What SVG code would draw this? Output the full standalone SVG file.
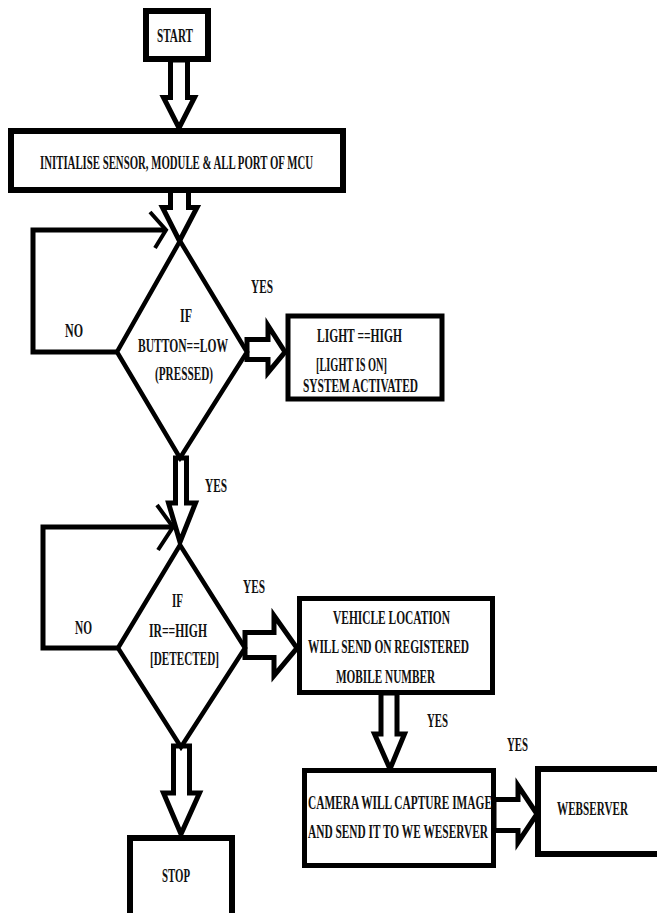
<svg xmlns="http://www.w3.org/2000/svg" width="657" height="913" viewBox="0 0 657 913">
<style>
.box{fill:#fff;stroke:#000;stroke-width:6}
.dia{fill:#fff;stroke:#000;stroke-width:4.5;stroke-linejoin:miter}
.arr{fill:#fff;stroke:#000;stroke-width:5;stroke-linejoin:miter}
.ln{fill:none;stroke:#000;stroke-width:5}
.chev{fill:none;stroke:#000;stroke-width:4}
text{font-family:"Liberation Serif","Times New Roman",serif;font-weight:bold;font-size:18px;fill:#111;text-anchor:middle}
</style>
<rect width="657" height="913" fill="#fff"/>
<g id="connectors">
  <polygon class="arr" points="170.5,60 170.5,97.5 163.5,97.5 179,128 194.5,97.5 187.5,97.5 187.5,60"/>
  <polygon class="arr" points="170.5,190 170.5,207.5 162.5,207.5 179.5,241 197,207.5 188.5,207.5 188.5,190"/>
  <polygon class="arr" points="175.5,458 175.5,503 168.5,503 180,542 195.5,503 186.5,503 186.5,458"/>
  <polygon class="arr" points="173.5,746 173.5,793 163.5,793 181,834 199.5,793 189.5,793 189.5,746"/>
  <polygon class="arr" points="247,339.5 268,339.5 268,325.5 285,352 268,372.5 268,359.5 247,359.5"/>
  <polygon class="arr" points="245,632.5 274,632.5 274,615.5 297,648 274,675.5 274,657.5 245,657.5"/>
  <polygon class="arr" points="381,693 381,734 374.5,734 390,769 404.5,734 397,734 397,693"/>
  <polygon class="arr" points="494,799.5 518,799.5 518,785.5 537,814 518,842.5 518,830.5 494,830.5"/>
  <polyline class="ln" points="117,352 33,352 33,230 165,230"/>
  <polyline class="chev" points="150,212 166,230 155,248"/>
  <polyline class="ln" points="118,648 43,648 43,527 172,527"/>
  <polyline class="chev" points="157,505 173,527 158,550"/>
</g>
<g id="start"><rect class="box" x="146" y="11" width="62" height="48"/><text x="175" y="42" textLength="36" lengthAdjust="spacingAndGlyphs">START</text></g>
<g id="init"><rect class="box" x="11" y="131" width="332" height="59"/><text x="176.5" y="169" textLength="273" lengthAdjust="spacingAndGlyphs">INITIALISE SENSOR, MODULE &amp; ALL PORT OF MCU</text></g>
<g id="decision1"><polygon class="dia" points="180,241 247,352 180,458 117,352"/>
<text x="186" y="322" textLength="12" lengthAdjust="spacingAndGlyphs">IF</text>
<text x="183" y="352" textLength="90" lengthAdjust="spacingAndGlyphs">BUTTON==LOW</text>
<text x="184" y="380" textLength="58" lengthAdjust="spacingAndGlyphs">(PRESSED)</text></g>
<g id="light"><rect class="box" x="288" y="316" width="154" height="83" style="stroke-width:5"/>
<text x="359.5" y="342" textLength="85" lengthAdjust="spacingAndGlyphs">LIGHT ==HIGH</text>
<text x="351.5" y="371" textLength="71" lengthAdjust="spacingAndGlyphs">[LIGHT IS ON]</text>
<text x="360.5" y="392" textLength="115" lengthAdjust="spacingAndGlyphs">SYSTEM ACTIVATED</text></g>
<g id="decision2"><polygon class="dia" points="180,545 245,648 181,747 118,648"/>
<text x="177.5" y="607" textLength="11" lengthAdjust="spacingAndGlyphs">IF</text>
<text x="178" y="637" textLength="58" lengthAdjust="spacingAndGlyphs">IR==HIGH</text>
<text x="184.5" y="665" textLength="69" lengthAdjust="spacingAndGlyphs">[DETECTED]</text></g>
<g id="vehicle"><rect class="box" x="299.5" y="598.5" width="193" height="94" style="stroke-width:5"/>
<text x="391.5" y="624" textLength="117" lengthAdjust="spacingAndGlyphs">VEHICLE LOCATION</text>
<text x="388.5" y="653" textLength="161" lengthAdjust="spacingAndGlyphs">WILL SEND ON REGISTERED</text>
<text x="385.5" y="683" textLength="99" lengthAdjust="spacingAndGlyphs">MOBILE NUMBER</text></g>
<g id="camera"><rect class="box" x="304.5" y="770.5" width="189" height="95" style="stroke-width:5"/>
<text x="400" y="809" textLength="184" lengthAdjust="spacingAndGlyphs">CAMERA WILL CAPTURE IMAGE</text>
<text x="398" y="838" textLength="180" lengthAdjust="spacingAndGlyphs">AND SEND IT TO WE WESERVER</text></g>
<g id="webserver"><rect x="538" y="769" width="119" height="85" fill="#fff"/><path class="box" d="M657,769 H538 V854 H657" fill="#fff"/>
<text x="592.5" y="815" textLength="71" lengthAdjust="spacingAndGlyphs">WEBSERVER</text></g>
<g id="stop"><rect x="130" y="838" width="102" height="75" fill="#fff"/><path class="box" d="M130,913 V838 H232 V913" fill="#fff"/>
<text x="176" y="882" textLength="28" lengthAdjust="spacingAndGlyphs">STOP</text></g>
<g id="labels">
<text x="74" y="337" textLength="18" lengthAdjust="spacingAndGlyphs">NO</text>
<text x="262" y="293" textLength="22" lengthAdjust="spacingAndGlyphs">YES</text>
<text x="216" y="492" textLength="22" lengthAdjust="spacingAndGlyphs">YES</text>
<text x="83.5" y="634" textLength="17" lengthAdjust="spacingAndGlyphs">NO</text>
<text x="254" y="593" textLength="22" lengthAdjust="spacingAndGlyphs">YES</text>
<text x="437.5" y="727" textLength="21" lengthAdjust="spacingAndGlyphs">YES</text>
<text x="517.5" y="751" textLength="21" lengthAdjust="spacingAndGlyphs">YES</text>
</g>
</svg>
